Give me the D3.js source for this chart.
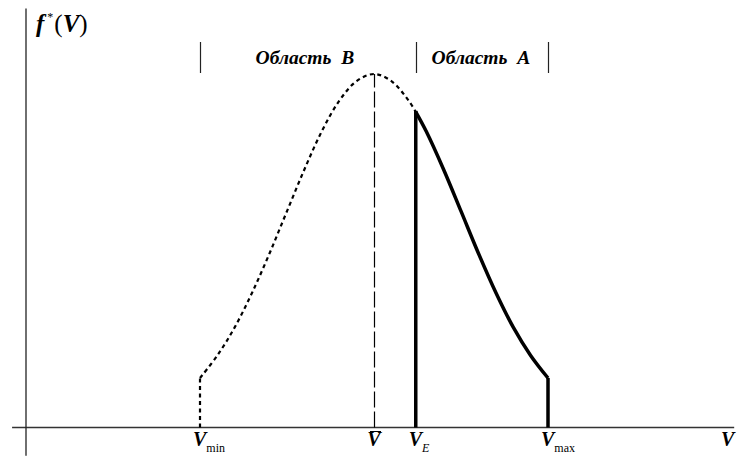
<!DOCTYPE html>
<html>
<head>
<meta charset="utf-8">
<script src="https://cdn.jsdelivr.net/npm/d3@7"></script>
<style>
  html, body { margin: 0; padding: 0; background: #fff; }
  svg { display: block; }
</style>
</head>
<body>
<svg id="chart" width="741" height="459"></svg>
<script>
// Speed values on the V axis
const vMin = 5;
const vMean = 10;
const vE = 11.2;
const vMax = 15;

// Density f*(V), left branch up to V_E (drawn dashed)
const dashedV = [5, 5.5, 6, 6.5, 7, 7.5, 8, 8.5, 9, 9.5, 10, 10.5, 11, 11.2];
const dashedF = [0.14, 0.204, 0.284, 0.382, 0.493, 0.612, 0.73, 0.838, 0.924, 0.98, 1.0, 0.98, 0.924, 0.893];

// Density f*(V), region A from V_E to V_max (drawn solid)
const solidV = [11.2, 11.5, 12, 12.5, 13, 13.5, 14, 14.5, 15];
const solidF = [0.893, 0.838, 0.73, 0.612, 0.493, 0.382, 0.284, 0.204, 0.14];

// Region captions and their boundaries
const regionNames = ["Область  B", "Область  A"];
const regionBounds = [[vMin, vE], [vE, vMax]];

const serif = "'Liberation Serif', 'Times New Roman', Tinos, 'DejaVu Serif', serif";

const svg = d3.select("#chart")
  .attr("font-family", serif);

const x = d3.scaleLinear().domain([0, 20]).range([26, 722]);
const y = d3.scaleLinear().domain([0, 1]).range([427.5, 74]);

const ink = "#000";

// Axes: plain lines with no ticks
const xAxis = d3.axisBottom(x).tickValues([]).tickSizeOuter(0);
svg.append("g")
  .attr("transform", `translate(0,${y(0)})`)
  .call(xAxis)
  .call(g => g.select(".domain").attr("d", `M${x(-0.4)},0H${x(20.35)}`).attr("stroke", "#333").attr("stroke-width", 1.3));

const yAxis = d3.axisLeft(y).tickValues([]).tickSizeOuter(0);
svg.append("g")
  .attr("transform", `translate(${x(0)},0)`)
  .call(yAxis)
  .call(g => g.select(".domain").attr("d", `M0,${y(1.185)}V${y(-0.08)}`).attr("stroke", "#222").attr("stroke-width", 1.3));

const line = d3.line()
  .x(d => x(d[0]))
  .y(d => y(d[1]))
  .curve(d3.curveCatmullRom);

// Dashed part of the curve
svg.append("path")
  .datum(dashedV.map((v, i) => [v, dashedF[i]]))
  .attr("d", line)
  .attr("fill", "none")
  .attr("stroke", ink)
  .attr("stroke-width", 2.2)
  .attr("stroke-dasharray", "4,3.5");

// Dashed drop at V_min
svg.append("line")
  .attr("x1", x(vMin)).attr("x2", x(vMin))
  .attr("y1", y(0)).attr("y2", y(dashedF[0]))
  .attr("stroke", ink).attr("stroke-width", 2.2)
  .attr("stroke-dasharray", "4,3.5");

// Mean line, nudged half a pixel so it renders crisp
svg.append("line")
  .attr("x1", x(vMean) + 0.5).attr("x2", x(vMean) + 0.5)
  .attr("y1", y(0)).attr("y2", y(1))
  .attr("stroke", ink).attr("stroke-width", 1.2)
  .attr("stroke-dasharray", "16,4");

// Solid region A curve with its boundaries
svg.append("path")
  .datum(solidV.map((v, i) => [v, solidF[i]]))
  .attr("d", line)
  .attr("fill", "none")
  .attr("stroke", ink)
  .attr("stroke-width", 3.5)
  .attr("stroke-linejoin", "round");

svg.append("line")
  .attr("x1", x(vE)).attr("x2", x(vE))
  .attr("y1", y(0)).attr("y2", y(solidF[0]) - 1)
  .attr("stroke", ink).attr("stroke-width", 3.5);

svg.append("line")
  .attr("x1", x(vMax)).attr("x2", x(vMax))
  .attr("y1", y(0)).attr("y2", y(solidF[solidF.length - 1]))
  .attr("stroke", ink).attr("stroke-width", 3.5);

// Region markers at the top
const markV = [vMin, vE, vMax];
svg.selectAll("line.mark")
  .data(markV)
  .join("line")
  .attr("class", "mark")
  .attr("x1", d => Math.round(x(d)) + 0.5).attr("x2", d => Math.round(x(d)) + 0.5)
  .attr("y1", 42).attr("y2", 73)
  .attr("stroke", "#222").attr("stroke-width", 1.2);

svg.selectAll("text.region")
  .data(regionNames)
  .join("text")
  .attr("class", "region")
  .attr("x", (d, i) => i === 0 ? (x(regionBounds[i][0]) + x(regionBounds[i][1])) / 2 - 3 : (x(regionBounds[i][0]) + x(regionBounds[i][1])) / 2 - 1)
  .attr("y", 64)
  .attr("text-anchor", "middle")
  .attr("font-size", 19.5)
  .attr("font-style", "italic")
  .attr("font-weight", "bold")
  .style("white-space", "pre")
  .text(d => d);

// Axis title f*(V)
const fLab = svg.append("text")
  .attr("x", 36).attr("y", 32)
  .attr("font-size", 25)
  .style("white-space", "pre");
fLab.append("tspan").attr("font-style", "italic").attr("font-weight", "bold").text("f");
fLab.append("tspan").attr("font-size", 12).attr("dy", -11).attr("dx", 3).text("*");
fLab.append("tspan").attr("dy", 11).attr("dx", 1).text("(");
fLab.append("tspan").attr("font-style", "italic").attr("font-weight", "bold").text("V");
fLab.append("tspan").text(")");

// Labels under the V axis
const baseY = 446;
function vLabel(v, sub, subItalic) {
  const t = svg.append("text")
    .attr("x", x(v) - 7).attr("y", baseY)
    .attr("font-size", 20);
  t.append("tspan").attr("font-style", "italic").attr("font-weight", "bold").text("V");
  if (sub) {
    t.append("tspan")
      .attr("font-size", 12)
      .attr("dy", 6)
      .attr("font-style", subItalic ? "italic" : "normal")
      .text(sub);
  }
  return t;
}
vLabel(vMin, "min", false);
vLabel(vE, "E", true);
vLabel(vMax, "max", false);
vLabel(20, null, false).attr("x", x(20) - 1);

// V with overline at the mean
svg.append("text")
  .attr("x", x(vMean)).attr("y", baseY)
  .attr("text-anchor", "middle")
  .attr("font-size", 20)
  .attr("font-style", "italic")
  .attr("font-weight", "bold")
  .text("V");
svg.append("line")
  .attr("x1", x(vMean) - 4).attr("x2", x(vMean) + 7)
  .attr("y1", 431.5).attr("y2", 431.5)
  .attr("stroke", ink).attr("stroke-width", 1);
</script>
</body>
</html>
